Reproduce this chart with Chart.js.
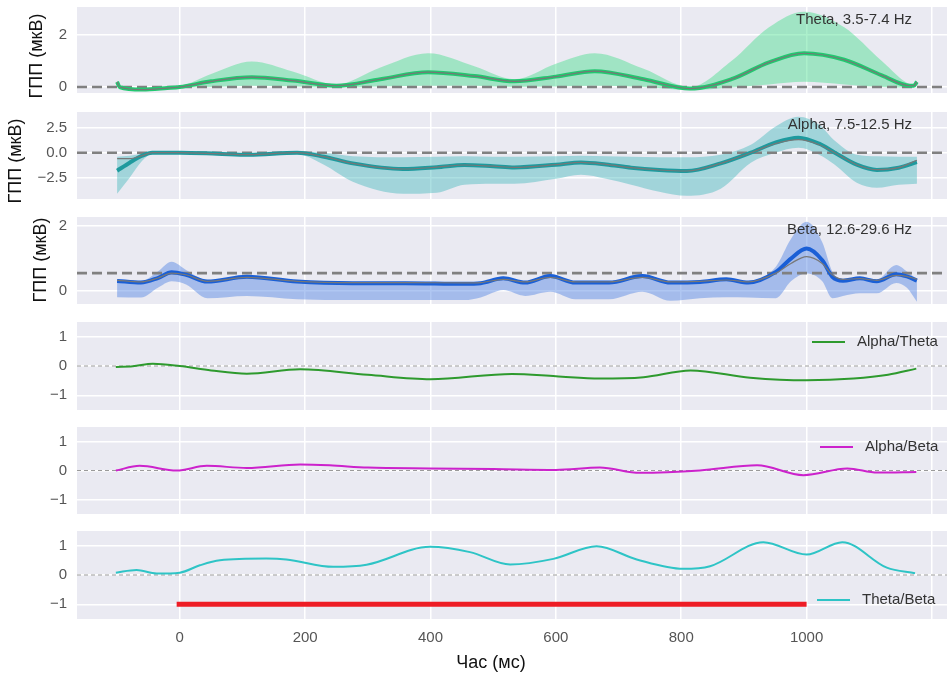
<!DOCTYPE html>
<html>
<head>
<meta charset="utf-8">
<script src="https://cdn.jsdelivr.net/npm/chart.js@4.4.1/dist/chart.umd.min.js"></script>
<style>
  html, body { margin: 0; padding: 0; background: #fff; }
  #wrap { position: relative; width: 947px; height: 686px; overflow: hidden; }
  #wrap canvas { position: absolute; left: 0; top: 0; }
</style>
</head>
<body>
<div id="wrap"></div>
<script>
// ── Data ─────────────────────────────────────────────────────
const xTicks      = [0, 200, 400, 600, 800, 1000, 1200];
const xTickLabels = ['0', '200', '400', '600', '800', '1000', ''];

// Theta, 3.5-7.4 Hz
const thetaT     = [-100, -96, -60, -20, 0, 50, 115, 180, 250, 320, 396, 470, 534, 600, 662, 740, 814, 880, 940, 996, 1060, 1120, 1165, 1171, 1176];
const thetaMean  = [0.2, 0.0, -0.1, -0.04, 0.0, 0.22, 0.38, 0.25, 0.05, 0.3, 0.57, 0.42, 0.22, 0.4, 0.61, 0.3, -0.06, 0.3, 0.95, 1.3, 1.05, 0.45, 0.05, 0.05, 0.2];
const thetaUpper = [0.25, 0.02, -0.05, 0.0, 0.03, 0.5, 0.98, 0.6, 0.1, 0.75, 1.3, 0.8, 0.3, 0.9, 1.3, 0.7, 0.0, 1.0, 2.3, 2.9, 2.3, 1.0, 0.1, 0.08, 0.25];
const thetaLower = [0.1, -0.05, -0.15, -0.08, -0.03, 0.0, 0.05, 0.02, -0.02, 0.02, 0.05, 0.05, 0.0, 0.02, 0.05, 0.0, -0.12, -0.02, 0.1, 0.2, 0.1, 0.0, -0.02, 0.0, 0.15];

// Alpha, 7.5-12.5 Hz
const alphaT     = [-100, -80, -60, -44, 0, 60, 110, 187, 230, 276, 356, 410, 454, 500, 534, 600, 640, 680, 720, 765, 809, 863, 911, 950, 987, 1020, 1045, 1080, 1112, 1147, 1176];
const alphaMean  = [-1.8, -1.0, -0.3, 0.0, 0.0, -0.1, -0.2, 0.0, -0.4, -1.07, -1.63, -1.45, -1.23, -1.35, -1.47, -1.2, -0.97, -1.17, -1.5, -1.73, -1.83, -1.07, 0.0, 1.0, 1.5, 0.9, 0.0, -1.2, -1.73, -1.5, -0.95];
const alphaGray  = [-0.6, -0.6, -0.3, 0.0, 0.0, -0.1, -0.2, 0.0, -0.4, -1.07, -1.63, -1.45, -1.23, -1.35, -1.47, -1.2, -0.97, -1.17, -1.5, -1.73, -1.83, -1.07, 0.0, 0.9, 1.3, 0.8, 0.0, -1.2, -1.7, -1.5, -0.75];
const alphaUpper = [-0.4, -0.3, -0.1, 0.1, 0.1, 0.0, -0.05, 0.15, 0.0, -0.35, -0.45, -0.4, -0.35, -0.4, -0.4, -0.35, -0.3, -0.35, -0.4, -0.45, -0.45, -0.2, 0.8, 2.6, 3.6, 2.8, 1.2, -0.2, -0.35, -0.4, -0.4];
const alphaLower = [-4.1, -2.5, -0.8, -0.15, -0.1, -0.25, -0.35, -0.15, -1.2, -2.9, -4.1, -4.0, -3.2, -3.1, -3.1, -2.6, -2.2, -2.6, -3.2, -3.9, -4.3, -3.6, -1.0, 0.0, 0.5, -0.2, -1.2, -3.0, -3.5, -3.2, -3.1];

// Beta, 12.6-29.6 Hz
const betaT      = [-100, -62, -35, -13, 10, 44, 107, 187, 276, 360, 454, 480, 516, 551, 591, 631, 685, 738, 783, 830, 872, 907, 951, 975, 1000, 1025, 1041, 1058, 1085, 1112, 1143, 1160, 1176];
const betaMean   = [0.31, 0.26, 0.4, 0.58, 0.5, 0.29, 0.44, 0.29, 0.24, 0.24, 0.22, 0.24, 0.39, 0.26, 0.46, 0.26, 0.26, 0.46, 0.26, 0.28, 0.36, 0.26, 0.59, 1.0, 1.31, 0.95, 0.44, 0.32, 0.39, 0.3, 0.52, 0.45, 0.32];
const betaGray   = [0.33, 0.28, 0.4, 0.55, 0.5, 0.3, 0.42, 0.3, 0.26, 0.26, 0.25, 0.26, 0.36, 0.28, 0.42, 0.28, 0.28, 0.42, 0.28, 0.3, 0.34, 0.28, 0.55, 0.85, 1.06, 0.85, 0.5, 0.36, 0.38, 0.33, 0.48, 0.45, 0.36];
const betaUpper  = [0.36, 0.3, 0.6, 0.9, 0.65, 0.33, 0.48, 0.33, 0.28, 0.28, 0.26, 0.28, 0.45, 0.3, 0.52, 0.3, 0.3, 0.52, 0.3, 0.32, 0.4, 0.3, 0.75, 1.6, 2.13, 1.5, 0.6, 0.36, 0.43, 0.35, 0.8, 0.6, 0.36];
const betaLower  = [-0.19, -0.2, 0.1, 0.3, 0.2, -0.22, -0.15, -0.25, -0.28, -0.28, -0.28, -0.2, 0.03, -0.15, -0.02, -0.25, -0.25, -0.02, -0.3, -0.22, -0.19, -0.2, -0.22, 0.3, 0.54, 0.3, -0.22, -0.15, -0.07, -0.07, 0.25, 0.1, -0.33];

// Ratios
const atT  = [-102, -75, -43, 0, 50, 107, 192, 300, 400, 530, 600, 670, 740, 815, 910, 1000, 1075, 1130, 1175];
const atV  = [-0.03, -0.01, 0.08, 0.0, -0.15, -0.26, -0.11, -0.3, -0.45, -0.27, -0.35, -0.43, -0.38, -0.15, -0.4, -0.49, -0.43, -0.3, -0.09];
const abT  = [-102, -64, -5, 43, 107, 192, 239, 300, 400, 500, 600, 670, 734, 830, 921, 995, 1065, 1113, 1175];
const abV  = [0.0, 0.16, 0.0, 0.16, 0.09, 0.21, 0.18, 0.1, 0.07, 0.05, 0.02, 0.1, -0.08, 0.0, 0.18, -0.16, 0.07, -0.07, -0.05];
const tbT  = [-102, -69, -37, 0, 32, 64, 138, 170, 245, 298, 399, 463, 527, 596, 665, 729, 803, 846, 931, 1000, 1057, 1128, 1173];
const tbV  = [0.08, 0.17, 0.05, 0.08, 0.33, 0.5, 0.56, 0.53, 0.28, 0.35, 0.96, 0.78, 0.36, 0.55, 0.98, 0.53, 0.21, 0.3, 1.12, 0.7, 1.12, 0.25, 0.06];

// stimulus bar
const stimX = [-5, 1000];
const stimY = [-1, -1];

// reference levels
const thetaBase = 0, alphaBase = 0, betaBase = 0.55, ratioBase = 0;

// ── Layout ───────────────────────────────────────────────────
const W = 947, H = 686, LEFT = 77;
const X_MIN = -164, X_MAX = 1224;
const FONT = '"Liberation Sans", Arial, sans-serif';
const wrap = document.getElementById('wrap');

const pts = (t, ys) => t.map((x, i) => ({ x, y: ys[i] }));
const flat = v => [{ x: X_MIN, y: v }, { x: X_MAX, y: v }];

const bgPlugin = {
  id: 'bg',
  beforeDraw(c) {
    const a = c.chartArea, ctx = c.ctx;
    ctx.save();
    ctx.fillStyle = '#EAEAF2';
    ctx.fillRect(a.left, a.top, a.right - a.left, a.bottom - a.top);
    ctx.restore();
  }
};

function textPlugin(items) {
  return {
    id: 'texts',
    afterDraw(c) {
      const ctx = c.ctx;
      ctx.save();
      items.forEach(t => {
        ctx.font = `${t.size || 15}px ${FONT}`;
        ctx.fillStyle = t.color || '#333';
        ctx.textBaseline = 'middle';
        if (t.line) {
          ctx.strokeStyle = t.line;
          ctx.lineWidth = 2;
          ctx.beginPath(); ctx.moveTo(t.x - 45, t.y); ctx.lineTo(t.x - 12, t.y); ctx.stroke();
        }
        ctx.save();
        ctx.translate(t.x, t.y);
        if (t.rotate) ctx.rotate(-Math.PI / 2);
        ctx.textAlign = t.align || 'left';
        ctx.fillText(t.text, 0, 0);
        ctx.restore();
      });
      ctx.restore();
    }
  };
}

function bandSets(t, mean, gray, upper, lower, base, lineColor, fillColor) {
  const mono = { cubicInterpolationMode: 'monotone' };
  return [
    { data: pts(t, gray), borderColor: '#777777', borderWidth: 1.2, ...mono },
    { data: pts(t, mean), borderColor: lineColor, borderWidth: 4, ...mono },
    { data: flat(base), borderColor: '#808080', borderWidth: 2.6, borderDash: [10, 5] },
    { data: pts(t, upper), borderColor: 'rgba(0,0,0,0)', borderWidth: 0, backgroundColor: fillColor, fill: '+1', ...mono },
    { data: pts(t, lower), borderColor: 'rgba(0,0,0,0)', borderWidth: 0, fill: false, ...mono },
  ];
}

function ratioSets(t, v, color, extra = []) {
  return [
    ...extra,
    { data: pts(t, v), borderColor: color, borderWidth: 2, cubicInterpolationMode: 'monotone' },
    { data: flat(ratioBase), borderColor: '#9a9a9a', borderWidth: 1.2, borderDash: [4, 3] },
  ];
}

function makePanel({ top, bottom, yMin, yMax, yTicks, yLabels, datasets, last, texts }) {
  const cv = document.createElement('canvas');
  cv.width = W; cv.height = H;
  wrap.appendChild(cv);
  const grid = { color: '#ffffff', lineWidth: 1.5, drawTicks: false };
  return new Chart(cv, {
    type: 'line',
    data: { datasets },
    options: {
      responsive: false, animation: false, devicePixelRatio: 1,
      layout: { padding: { top, bottom: last ? 0 : H - bottom, left: 0, right: 0 } },
      plugins: { legend: { display: false }, tooltip: { enabled: false } },
      elements: { point: { radius: 0 } },
      scales: {
        x: {
          type: 'linear', min: X_MIN, max: X_MAX,
          afterBuildTicks: s => { s.ticks = xTicks.map(v => ({ value: v })); },
          afterFit: s => { s.height = last ? H - bottom : 0; s.paddingLeft = 0; s.paddingRight = 0; },
          grid, border: { display: false },
          ticks: { display: !!last, autoSkip: false, maxRotation: 0, padding: 10, color: '#555',
                   font: { size: 15, family: FONT }, callback: (v, i) => xTickLabels[i] }
        },
        y: {
          type: 'linear', min: yMin, max: yMax,
          afterBuildTicks: s => { s.ticks = yTicks.map(v => ({ value: v })); },
          afterFit: s => { s.width = LEFT; s.paddingTop = 0; s.paddingBottom = 0; },
          grid, border: { display: false },
          ticks: { padding: 10, color: '#555', font: { size: 15, family: FONT }, callback: (v, i) => yLabels[i] }
        }
      }
    },
    plugins: [bgPlugin, textPlugin(texts)]
  });
}

const yTitle = 'ГПП (мкВ)';

// ── Panels ───────────────────────────────────────────────────
makePanel({
  top: 7, bottom: 93, yMin: -0.23, yMax: 3.08, yTicks: [0, 2], yLabels: ['0', '2'],
  datasets: bandSets(thetaT, thetaMean, thetaMean, thetaUpper, thetaLower, thetaBase, '#22c870', 'rgba(70,222,140,0.45)'),
  texts: [
    { text: 'Theta, 3.5-7.4 Hz', x: 912, y: 20, align: 'right' },
    { text: yTitle, x: 37, y: 56, rotate: true, align: 'center', size: 18, color: '#111' }
  ]
});

makePanel({
  top: 112, bottom: 199, yMin: -4.63, yMax: 4.07, yTicks: [-2.5, 0, 2.5], yLabels: ['−2.5', '0.0', '2.5'],
  datasets: bandSets(alphaT, alphaMean, alphaGray, alphaUpper, alphaLower, alphaBase, '#1e9a9e', 'rgba(60,180,186,0.42)'),
  texts: [
    { text: 'Alpha, 7.5-12.5 Hz', x: 912, y: 125, align: 'right' },
    { text: yTitle, x: 16, y: 161, rotate: true, align: 'center', size: 18, color: '#111' }
  ]
});

makePanel({
  top: 217, bottom: 304, yMin: -0.4, yMax: 2.28, yTicks: [0, 2], yLabels: ['0', '2'],
  datasets: bandSets(betaT, betaMean, betaGray, betaUpper, betaLower, betaBase, '#1a5fd6', 'rgba(80,130,226,0.45)'),
  texts: [
    { text: 'Beta, 12.6-29.6 Hz', x: 912, y: 230, align: 'right' },
    { text: yTitle, x: 41, y: 260, rotate: true, align: 'center', size: 18, color: '#111' }
  ]
});

const ratioY = { yMin: -1.5, yMax: 1.5, yTicks: [-1, 0, 1], yLabels: ['−1', '0', '1'] };

makePanel({
  top: 322, bottom: 410, ...ratioY,
  datasets: ratioSets(atT, atV, '#2e9a2e'),
  texts: [{ text: 'Alpha/Theta', x: 857, y: 342, line: '#2e9a2e' }]
});

makePanel({
  top: 427, bottom: 514, ...ratioY,
  datasets: ratioSets(abT, abV, '#cc22cc'),
  texts: [{ text: 'Alpha/Beta', x: 865, y: 447, line: '#cc22cc' }]
});

makePanel({
  top: 531, bottom: 619, ...ratioY, last: true,
  datasets: ratioSets(tbT, tbV, '#2ec4c6', [
    { data: pts(stimX, stimY), borderColor: '#ee1c25', borderWidth: 5, borderCapStyle: 'butt' }
  ]),
  texts: [
    { text: 'Theta/Beta', x: 862, y: 600, line: '#2ec4c6' },
    { text: 'Час (мс)', x: 491, y: 663, align: 'center', size: 18, color: '#111' }
  ]
});
</script>
</body>
</html>
